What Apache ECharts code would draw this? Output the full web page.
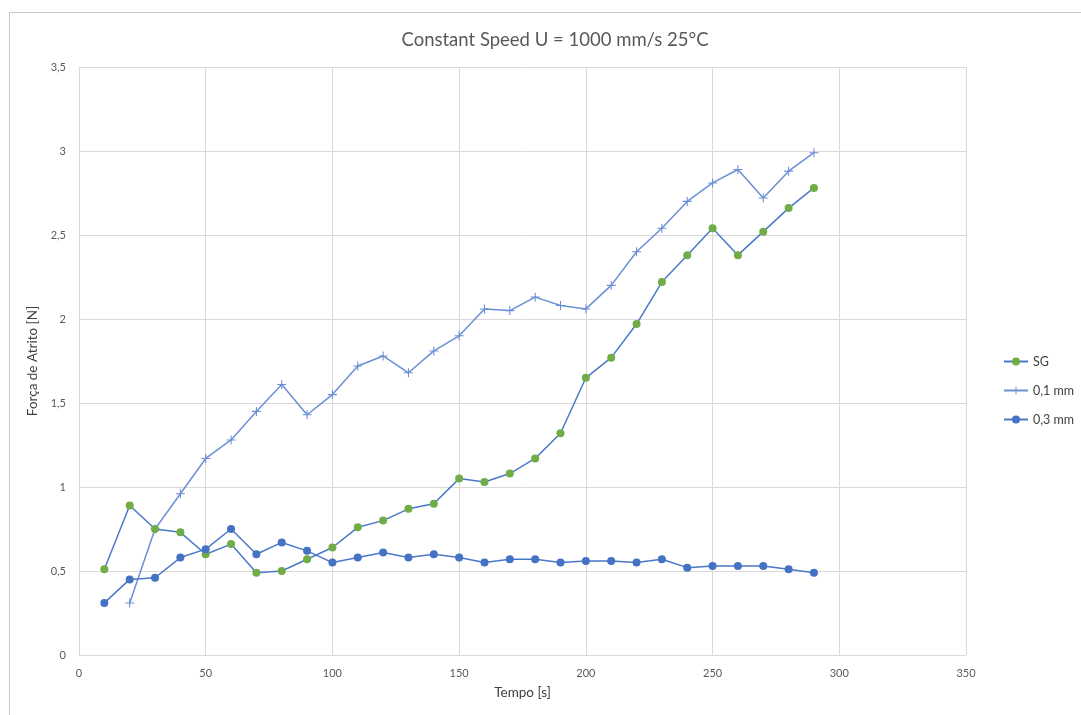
<!DOCTYPE html>
<html>
<head>
<meta charset="utf-8">
<script src="https://cdn.jsdelivr.net/npm/echarts@6/dist/echarts.min.js"></script>
<style>
  html, body { margin: 0; padding: 0; background: #ffffff; }
  #chart { width: 1081px; height: 715px; }
</style>
</head>
<body>
<div id="chart"></div>
<script>
// Time samples [s]
const tempo = [10, 20, 30, 40, 50, 60, 70, 80, 90, 100, 110, 120, 130, 140, 150,
               160, 170, 180, 190, 200, 210, 220, 230, 240, 250, 260, 270, 280, 290];

// Friction force [N] per series
const sg = [0.51, 0.89, 0.75, 0.73, 0.60, 0.66, 0.49, 0.50, 0.57, 0.64, 0.76, 0.80, 0.87, 0.90, 1.05,
            1.03, 1.08, 1.17, 1.32, 1.65, 1.77, 1.97, 2.22, 2.38, 2.54, 2.38, 2.52, 2.66, 2.78];
// 0,1 mm starts at t = 20 s
const mm01 = [null, 0.31, 0.75, 0.96, 1.17, 1.28, 1.45, 1.61, 1.43, 1.55, 1.72, 1.78, 1.68, 1.81, 1.90,
              2.06, 2.05, 2.13, 2.08, 2.06, 2.20, 2.40, 2.54, 2.70, 2.81, 2.89, 2.72, 2.88, 2.99];
const mm03 = [0.31, 0.45, 0.46, 0.58, 0.63, 0.75, 0.60, 0.67, 0.62, 0.55, 0.58, 0.61, 0.58, 0.60, 0.58,
              0.55, 0.57, 0.57, 0.55, 0.56, 0.56, 0.55, 0.57, 0.52, 0.53, 0.53, 0.53, 0.51, 0.49];

const seriesNames = ['SG', '0,1 mm', '0,3 mm'];

const pairs = ys => tempo.map((t, i) => [t, ys[i]]).filter(p => p[1] !== null);

const FONT = 'Lato, "Open Sans", sans-serif';
const TEXT = '#595959';
const GRID = '#d9d9d9';
const PLUS = 'path://M0.44,0 H0.56 V0.44 H1 V0.56 H0.56 V1 H0.44 V0.56 H0 V0.44 H0.44 Z';

const chart = echarts.init(document.getElementById('chart'), null, { renderer: 'canvas' });

chart.setOption({
  backgroundColor: '#ffffff',
  animation: false,
  title: {
    text: 'Constant Speed U = 1000 mm/s 25°C',
    left: 550, top: 26, textAlign: 'center',
    textStyle: { fontFamily: FONT, fontSize: 18.5, fontWeight: 'normal', color: TEXT }
  },
  graphic: [{
    type: 'rect', silent: true,
    shape: { x: 9.5, y: 12.5, width: 1100, height: 720 },
    style: { fill: 'none', stroke: '#c6c6c6', lineWidth: 1 }
  }],
  grid: { left: 79, right: 115, top: 67, bottom: 60, containLabel: false },
  legend: {
    orient: 'vertical', left: 998, top: 350,
    itemWidth: 24, itemHeight: 10, itemGap: 16,
    textStyle: { fontFamily: FONT, fontSize: 12.5, color: '#404040' },
    data: seriesNames
  },
  xAxis: {
    type: 'value', min: 0, max: 350, interval: 50,
    name: 'Tempo [s]', nameLocation: 'middle', nameGap: 31,
    nameTextStyle: { fontFamily: FONT, fontSize: 13.5, color: '#404040' },
    axisLine: { show: true, lineStyle: { color: GRID, width: 1 } },
    axisTick: { show: false },
    axisLabel: { fontFamily: FONT, fontSize: 11, color: TEXT, margin: 13 },
    splitLine: { show: true, lineStyle: { color: GRID, width: 1 } }
  },
  yAxis: {
    type: 'value', min: 0, max: 3.5, interval: 0.5,
    name: 'Força de Atrito [N]', nameLocation: 'middle', nameGap: 37,
    nameTextStyle: { fontFamily: FONT, fontSize: 13.5, color: '#404040' },
    axisLine: { show: false },
    axisTick: { show: false },
    axisLabel: {
      fontFamily: FONT, fontSize: 11, color: TEXT, margin: 13,
      formatter: v => String(v).replace('.', ',')
    },
    splitLine: { show: true, lineStyle: { color: GRID, width: 1 } }
  },
  series: [
    {
      name: seriesNames[0], type: 'line', data: pairs(sg),
      symbol: 'circle', symbolSize: 8,
      lineStyle: { color: '#4a78c8', width: 1.5 },
      itemStyle: { color: '#70AD47', borderWidth: 0 },
      z: 3
    },
    {
      name: seriesNames[1], type: 'line', data: pairs(mm01),
      symbol: PLUS, symbolSize: 9,
      lineStyle: { color: '#6b8fd4', width: 1.5 },
      itemStyle: { color: '#6b8fd4', borderWidth: 0 },
      z: 2
    },
    {
      name: seriesNames[2], type: 'line', data: pairs(mm03),
      symbol: 'circle', symbolSize: 8,
      lineStyle: { color: '#4a78c8', width: 1.5 },
      itemStyle: { color: '#4472C4', borderWidth: 0 },
      z: 4
    }
  ]
});
</script>
</body>
</html>
